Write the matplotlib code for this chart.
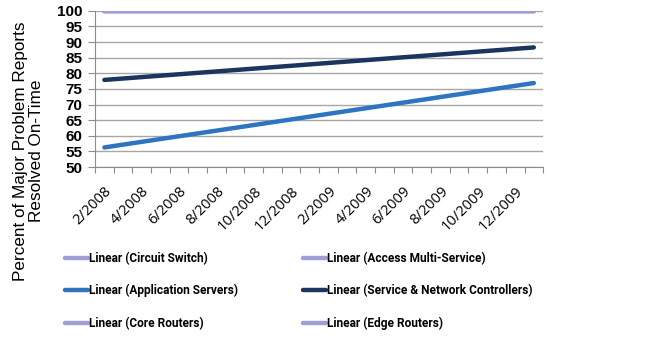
import matplotlib
matplotlib.use("Agg")
import matplotlib.pyplot as plt
from matplotlib.lines import Line2D

# Monthly categories, Feb 2008 through Jan 2010
months = [f"{m}/{y}" for y, ms in ((2008, range(2, 13)), (2009, range(1, 13)), (2010, range(1, 2))) for m in ms]
tick_labels = [lab if i % 2 == 0 else "" for i, lab in enumerate(months)]

# Linear trend lines: value at first and last month
series_names = [
    "Linear (Circuit Switch)",
    "Linear (Access Multi-Service)",
    "Linear (Application Servers)",
    "Linear (Service & Network Controllers)",
    "Linear (Core Routers)",
    "Linear (Edge Routers)",
]
trend_start = [100.0, 100.0, 56.3, 77.9, 100.0, 100.0]
trend_end = [100.0, 100.0, 76.9, 88.3, 100.0, 100.0]
colors = ["#9f9fd6", "#9f9fd6", "#2f74c0", "#1c355e", "#9f9fd6", "#9f9fd6"]

y_ticks = list(range(50, 101, 5))

fig = plt.figure(figsize=(6.6, 3.39), dpi=100)
ax = fig.add_axes([0.144, 0.507, 0.679, 0.461])

x_first, x_last = 0, len(months) - 1
draw_order = [2, 3, 0, 1, 4, 5]
for i in draw_order:
    ax.plot([x_first, x_last], [trend_start[i], trend_end[i]], color=colors[i],
            lw=3.2, solid_capstyle="round", zorder=3)

ax.set_xlim(-0.5, len(months) - 0.5)
ax.set_ylim(50, 100)
ax.set_yticks(y_ticks)
ax.set_yticklabels([str(v) for v in y_ticks], fontsize=11, fontweight="bold",
                   family="Liberation Sans")
ax.yaxis.grid(True, color="#a6a6a6", lw=1.0)
ax.set_axisbelow(True)

ax.set_xticks(range(len(months)))
ax.set_xticklabels(tick_labels, rotation=45, ha="right", rotation_mode="anchor",
                   fontsize=10.5, family="Open Sans")
ax.tick_params(axis="x", which="major", length=0, pad=12)
ax.set_xticks([k - 0.5 for k in range(len(months) + 1)], minor=True)
ax.tick_params(axis="x", which="minor", length=4, color="#8c8c8c", width=0.8)
ax.tick_params(axis="y", length=5, color="#8c8c8c", width=0.8, pad=4)

for side in ("top", "right"):
    ax.spines[side].set_visible(False)
for side in ("left", "bottom"):
    ax.spines[side].set_color("#8c8c8c")
    ax.spines[side].set_linewidth(0.8)

fig.text(0.043, 0.555, "Percent of Major Problem Reports\nResolved On-Time",
         rotation=90, ha="center", va="center", fontsize=12.3,
         family="Liberation Sans", linespacing=1.08)

# Legend: two columns of three entries each
legend_font = {"family": "Roboto", "size": 8.6, "weight": "bold"}
for col, x_anchor in ((0, 0.0985), (1, 0.459)):
    idx = [col, col + 2, col + 4]
    handles = [Line2D([0], [0], color=colors[i], lw=3.2, solid_capstyle="round") for i in idx]
    leg = fig.legend(handles, [series_names[i] for i in idx], loc="upper left",
                     bbox_to_anchor=(x_anchor, 0.258), frameon=False,
                     borderpad=0, borderaxespad=0, handlelength=1.95,
                     handletextpad=0.1, labelspacing=1.62, prop=legend_font)

fig.savefig("out.png", dpi=100)
